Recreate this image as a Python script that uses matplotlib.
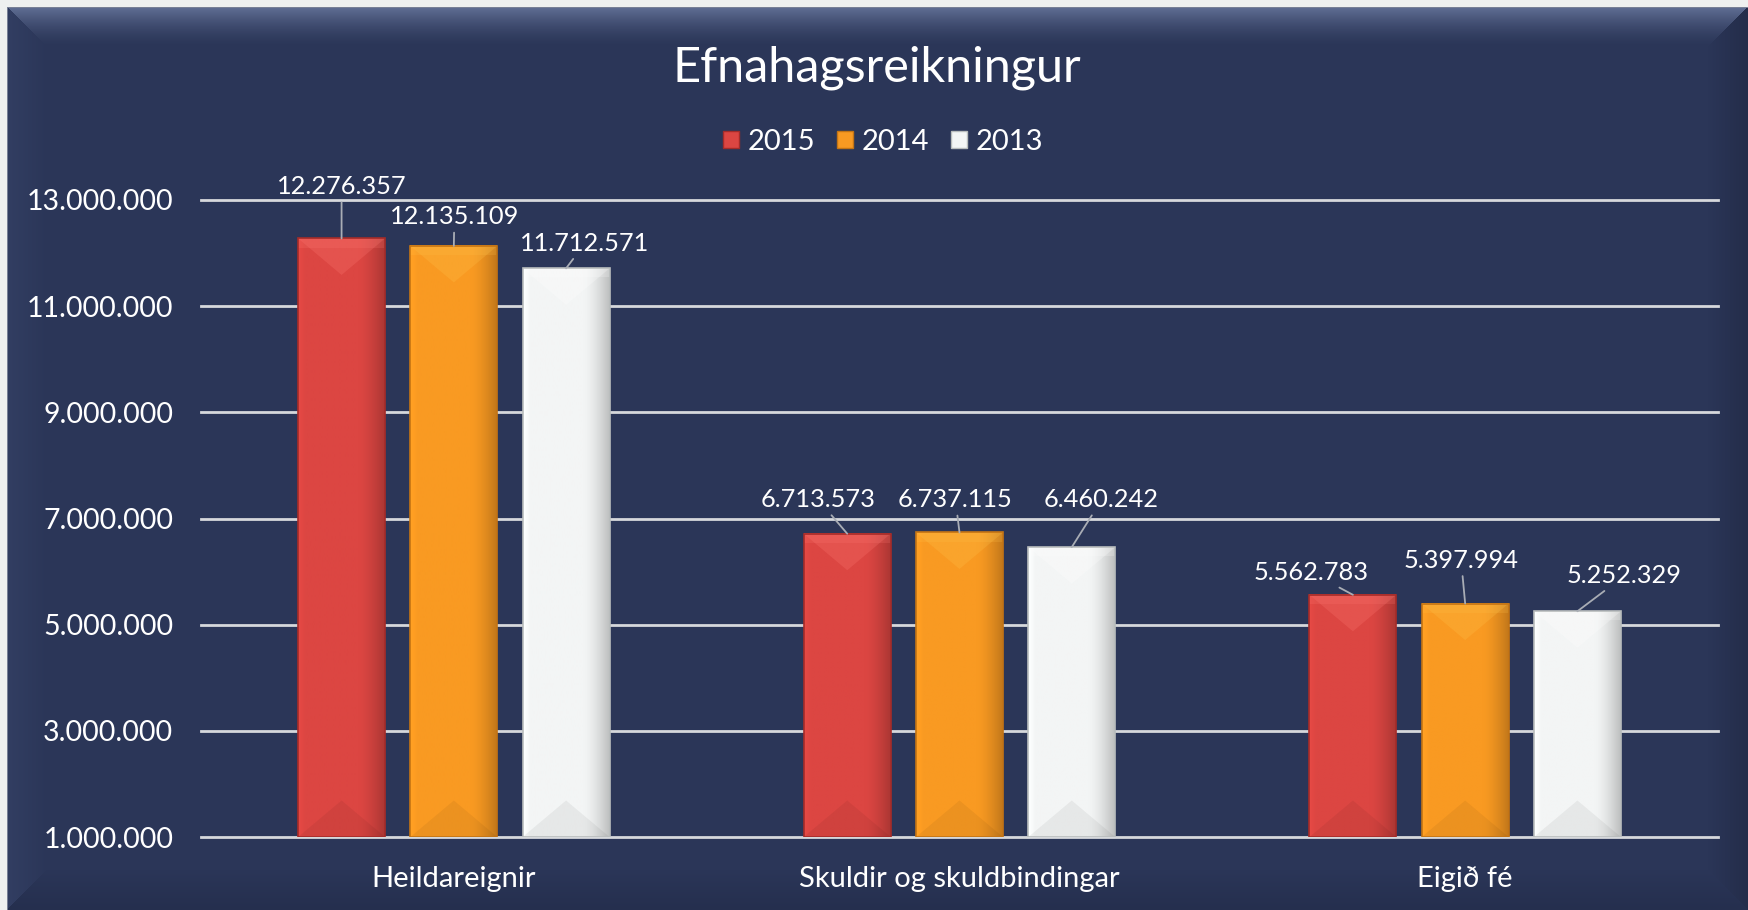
import numpy as np
import matplotlib
matplotlib.use("Agg")
import matplotlib.pyplot as plt
from matplotlib.patches import Patch, Polygon, Rectangle
from matplotlib.ticker import FuncFormatter

plt.rcParams['font.family'] = ['Lato', 'DejaVu Sans']

# data
categories = ["Heildareignir", "Skuldir og skuldbindingar", "Eigið fé"]
years = ["2015", "2014", "2013"]
v2015 = [12276357, 6713573, 5562783]
v2014 = [12135109, 6737115, 5397994]
v2013 = [11712571, 6460242, 5252329]
yticks = [1000000, 3000000, 5000000, 7000000, 9000000, 11000000, 13000000]

# layout / style (not data)
series = [v2015, v2014, v2013]
face = ["#dc4642", "#f99a22", "#f3f5f5"]
edge = ["#a52c29", "#c47414", "#b9bdbd"]
top_light = ["#ff7a74", "#ffc24a", "#ffffff"]
offsets = [-0.222, 0.0, 0.222]
bar_w = 0.172
# label centres: x offset from category centre, y in data units
lab_dx = [[-0.222, -0.279, -0.304],
          [0.001, -0.008, -0.008],
          [0.259, 0.281, 0.315]]
lab_y = [[13.25e6, 7.35e6, 5.98e6],
         [12.68e6, 7.35e6, 6.21e6],
         [12.18e6, 7.35e6, 5.92e6]]

W, H = 1748, 910
fig = plt.figure(figsize=(W / 100, H / 100), dpi=100)

# background panel with bevelled edges
yy, xx = np.mgrid[0:H, 0:W]
navy = np.array([43, 54, 88]) / 255.0
bg = np.ones((H, W, 3)) * np.array([238, 240, 240]) / 255.0
inside = (xx >= 7) & (yy >= 7)
bg[inside] = navy
dt, dl, dr, db = yy - 7, xx - 7, W - 1 - xx, H - 1 - yy
bw = 40
edges = [(dt, np.array([96, 110, 148]) / 255.0, 1.6),
         (dl, np.array([50, 62, 98]) / 255.0, 1.0),
         (dr, np.array([36, 45, 74]) / 255.0, 1.0),
         (db, np.array([37, 47, 78]) / 255.0, 1.0)]
dmin = np.minimum(np.minimum(dt, dl), np.minimum(dr, db))
for d, col, p in edges:
    m = inside & (d == dmin) & (d < bw)
    t = (1 - d[m] / bw) ** p
    bg[m] = navy + (col - navy) * t[:, None]
bg[7, 7:] = np.array([120, 128, 150]) / 255.0
bg[7:, 7] = np.array([120, 128, 150]) / 255.0
bgax = fig.add_axes([0, 0, 1, 1], zorder=-1)
bgax.imshow(bg, aspect='auto', extent=(0, 1, 0, 1), interpolation='nearest')
bgax.axis('off')

ax_l, ax_r, ax_t, ax_b = 201, 1718, 200, 837
ax = fig.add_axes([ax_l / W, 1 - ax_b / H, (ax_r - ax_l) / W, (ax_b - ax_t) / H])
ax.set_facecolor('none')
ymin, ymax = 1e6, 13e6
ax.set_xlim(-0.5, 2.5)
ax.set_ylim(ymin, ymax)
for s in ax.spines.values():
    s.set_visible(False)

x = np.arange(len(categories))
dy_px = (ymax - ymin) / (ax_b - ax_t)
bar_px = bar_w / 3.0 * (ax_r - ax_l)
depth = bar_px * 0.42 * dy_px

for yv in yticks:
    ax.axhline(yv, color="#d6d8dc", lw=2, zorder=1, clip_on=False)

u = np.linspace(0, 1, 80)
shade = 1 - 0.22 * np.clip((u - 0.7) / 0.3, 0, 1) ** 1.5 + 0.05 * np.clip(1 - u / 0.08, 0, 1)
for i, vals in enumerate(series):
    base = np.array(matplotlib.colors.to_rgb(face[i]))
    grad = np.clip(base[None, :] * shade[:, None], 0, 1)[None, :, :]
    for j, v in enumerate(vals):
        xc = x[j] + offsets[i]
        x0, x1 = xc - bar_w / 2, xc + bar_w / 2
        ax.bar(xc, v - ymin, bottom=ymin, width=bar_w, color=face[i], zorder=2,
               linewidth=0)
        ax.imshow(grad, extent=(x0, x1, ymin, v), aspect='auto', zorder=2.1,
                  interpolation='bilinear')
        ax.add_patch(Polygon([(x0, v), (x1, v), (xc, v - depth)], closed=True,
                             facecolor=top_light[i], alpha=0.25, lw=0, zorder=2.2))
        ax.add_patch(Rectangle((x0, v - 0.25 * depth), bar_w, 0.25 * depth,
                               facecolor=top_light[i], alpha=0.2, lw=0, zorder=2.2))
        ax.add_patch(Polygon([(x0, ymin), (x1, ymin), (xc, ymin + depth)], closed=True,
                             facecolor="black", alpha=0.05, lw=0, zorder=2.2))
        ax.add_patch(Rectangle((x0, ymin), bar_w, v - ymin, fill=False,
                               edgecolor=edge[i], lw=1.2, zorder=2.3))
        ax.annotate(f"{v:,}".replace(",", "."), xy=(xc, v),
                    xytext=(x[j] + lab_dx[i][j], lab_y[i][j]),
                    ha='center', va='center', color='white', fontsize=18.3,
                    annotation_clip=False, zorder=5,
                    arrowprops=dict(arrowstyle='-', color='#a9adb5', lw=1.3,
                                    shrinkA=1, shrinkB=0))

ax.set_xlim(-0.5, 2.5)
ax.set_ylim(ymin, ymax)
ax.set_xticks(x)
ax.set_xticklabels(categories)
ax.set_yticks(yticks)
ax.yaxis.set_major_formatter(FuncFormatter(lambda v, p: f"{int(v):,}".replace(",", ".")))
ax.tick_params(axis='y', length=0, pad=20, labelsize=20.5, labelcolor='white')
ax.tick_params(axis='x', length=0, pad=21, labelsize=21, labelcolor='white')

fig.text(877 / W, 1 - 68 / H, "Efnahagsreikningur", ha='center', va='center',
         color='white', fontsize=35)

handles = [Patch(facecolor=face[i], edgecolor=edge[i], label=years[i]) for i in range(3)]
fig.legend(handles=handles, loc='center', bbox_to_anchor=(883 / W, 1 - 142 / H),
           ncol=3, frameon=False, fontsize=21, labelcolor='white',
           handlelength=0.55, handleheight=0.55, handletextpad=0.3, columnspacing=0.75)

fig.savefig("out.png", dpi=100)
